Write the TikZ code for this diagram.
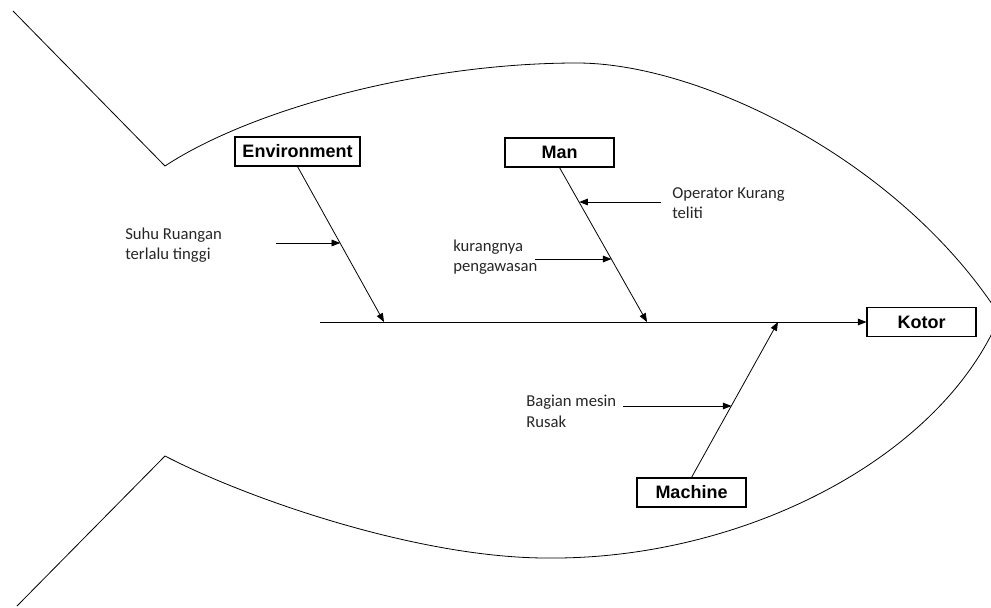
\documentclass[tikz,border=0pt]{standalone}
\usepackage{fontspec}
\setmainfont{Carlito}
\newfontfamily\arialfont{Liberation Sans}
\usetikzlibrary{arrows.meta}
\tikzset{
  px/.style={x=0.75pt,y=-0.75pt},
  causebox/.style={draw,line width=0.8pt,inner sep=0pt,minimum height=21.75pt,
    font=\arialfont\bfseries\fontsize{13.5pt}{15pt}\selectfont},
  outline/.style={line width=0.6pt},
  bone/.style={line width=0.6pt},
  tipped/.style={bone,-{Triangle[length=6.5pt,width=5pt]}},
  cause/.style={align=left,anchor=west,inner sep=0pt,
    font=\fontsize{12.5pt}{15.5pt}\selectfont,text=black!85}
}
\begin{document}
\begin{tikzpicture}[px]
\useasboundingbox (0,0) rectangle (991,607);
\begin{scope}
\clip (0,0) rectangle (991,607);
% fish outline
\draw[outline] (13,11) -- (165,166)
  .. controls (250,110) and (420,63) .. (577,63)
  .. controls (700,63) and (900,160) .. (1000,316);
\draw[outline] (17,606) -- (165,456)
  .. controls (250,500) and (420,558) .. (547,558)
  .. controls (740,560) and (940,460) .. (1000,316);
\end{scope}

% category boxes
\node[causebox,minimum width=93.75pt] (env) at (297.5,151.5) {Environment};
\node[causebox,minimum width=81.75pt] (man) at (559.5,152.5) {Man};
\node[causebox,minimum width=81.75pt] (kotor) at (921.5,322) {Kotor};
\node[causebox,minimum width=81.75pt] (machine) at (691.5,492.5) {Machine};

% spine
\coordinate (start) at (320,322);
\coordinate (envEnd) at (384,322);
\coordinate (manEnd) at (647,322);
\coordinate (macEnd) at (778,322);
\draw[tipped] (start) -- (kotor.west);
\draw[tipped] (env.south) -- (envEnd);
\draw[tipped] (man.south) -- (manEnd);
\draw[tipped] (machine.north) -- (macEnd);

% points on the bones
\path (env.south) -- (envEnd) coordinate[pos=0.494] (envA);
\path (man.south) -- (manEnd) coordinate[pos=0.226] (manA) coordinate[pos=0.594] (manB);
\path (machine.north) -- (macEnd) coordinate[pos=0.462] (macA);

% cause texts
\node[cause] (suhu) at (125,245) {Suhu Ruangan\\terlalu tinggi};
\node[cause] (oper) at (672,203) {Operator Kurang\\teliti};
\node[cause] (kurang) at (453,257) {kurangnya\\pengawasan};
\node[cause] (bagian) at (526,411) {Bagian mesin\\Rusak};

% cause arrows
\coordinate (suhuT) at (276,243);
\coordinate (operT) at (661,202);
\coordinate (kurangT) at (535,259);
\coordinate (bagianT) at (623,406);
\draw[tipped] (suhuT) -- (suhuT -| envA);
\draw[tipped] (operT) -- (operT -| manA);
\draw[tipped] (kurangT) -- (kurangT -| manB);
\draw[tipped] (bagianT) -- (bagianT -| macA);
\end{tikzpicture}
\end{document}
